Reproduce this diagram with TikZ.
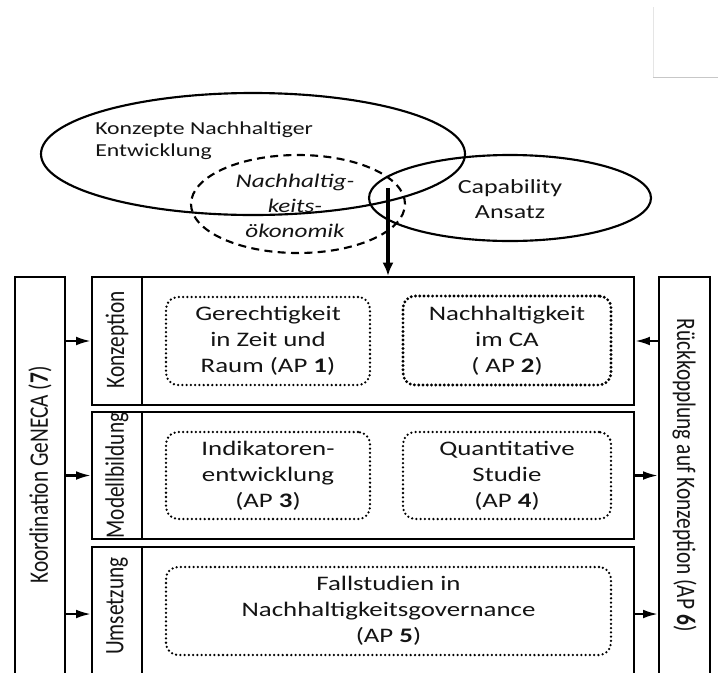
\documentclass[tikz,border=0pt]{standalone}
\usepackage{fontspec}
\setmainfont{Carlito}[FakeStretch=1.3]
\newfontfamily\rotfont{Carlito}
\usepackage{graphicx}
\usetikzlibrary{arrows.meta,shapes.geometric}
\newcommand\bxfont{\fontsize{15.5}{19.5}\selectfont}
\newcommand\rtfont{\rotfont\fontsize{16}{19}\selectfont}
\begin{document}
\begin{tikzpicture}[x=0.75pt,y=-0.75pt,
  ell/.style={draw, ellipse, line width=1.6pt, inner sep=0pt},
  box/.style={draw, rectangle, line width=1.75pt, inner sep=0pt},
  dbox/.style={draw, rectangle, rounded corners=9pt, line width=1.9pt,
     dash pattern=on 0pt off 3.2pt, line cap=round, align=center,
     inner sep=0pt, font=\bxfont, text=black!92},
  rlab/.style={inner sep=0pt, font=\rtfont, text=black!92},
  txt/.style={inner sep=0pt, text=black!92},
  arr/.style={line width=1.6pt, -{Latex[length=11pt,width=6.5pt]}}]
\useasboundingbox (0,0) rectangle (718,672);
\fill[white] (0,0) rectangle (718,672);
\clip (0,0) rectangle (718,672);

% faint corner artefact
\draw[line width=0.75pt, black!10] (653,7) -- (653,77);
\draw[line width=0.75pt, black!22] (653,77) -- (718,77);

% ellipses
\node[ell, minimum width=318pt, minimum height=91.5pt] (kne) at (253,154) {};
\node[ell, dash pattern=on 6pt off 4pt, minimum width=160.5pt, minimum height=73.5pt] (nho) at (298,204) {};
\node[ell, minimum width=211.5pt, minimum height=64.5pt] (cap) at (510,198) {};

\node[txt, anchor=west, align=left, font=\fontsize{13.7}{16.5}\selectfont] (knet) at (95,141)
  {Konzepte Nachhaltiger\\Entwicklung};
\node[txt, align=center, font=\fontsize{14.5}{19}\selectfont\itshape] (nhot) at (295,206)
  {Nachhaltig-\\keits-\\ökonomik};
\node[txt, align=center, font=\fontsize{15}{18.75}\selectfont] (capt) at (510,199)
  {Capability\\Ansatz};

% side boxes
\node[box, minimum width=37.5pt, minimum height=317.25pt] (kord) at (40,488.5) {};
\node[box, minimum width=38.25pt, minimum height=317.25pt] (rueck) at (684.5,488.5) {};
\node[rlab, rotate=90] (kordt) at (40,475)
  {\scalebox{1}[1.25]{Koordination GeNECA (\textbf{7})}};
\node[rlab, rotate=-90] (rueckt) at (684.5,475)
  {\scalebox{1}[1.25]{Rückkopplung auf Konzeption (AP \textbf{6})}};

% panels
\node[box, minimum width=37.5pt, minimum height=96pt] (p1lab) at (117,341) {};
\node[box, minimum width=369pt, minimum height=96pt] (p1) at (388,341) {};
\node[box, minimum width=37.5pt, minimum height=95.25pt] (p2lab) at (117,475.5) {};
\node[box, minimum width=369pt, minimum height=95.25pt] (p2) at (388,475.5) {};
\node[box, minimum width=37.5pt, minimum height=100.5pt] (p3lab) at (117,614) {};
\node[box, minimum width=369pt, minimum height=100.5pt] (p3) at (388,614) {};

\node[rlab, rotate=90] (l1) at (117,340) {\scalebox{1}[1.25]{Konzeption}};
\node[rlab, rotate=90] (l2) at (117,475.5) {\scalebox{1}[1.25]{Modellbildung}};
\node[rlab, rotate=90] (l3) at (117,606) {\scalebox{1}[1.25]{Umsetzung}};

% dotted work-package boxes
\node[dbox, minimum width=153pt, minimum height=66pt] (b1) at (268,341)
  {Gerechtigkeit\\in Zeit und\\Raum (AP \textbf{1})};
\node[dbox, line width=2.4pt, minimum width=156pt, minimum height=66.75pt] (b2) at (507,340.5)
  {Nachhaltigkeit\\im CA\\( AP \textbf{2})};
\node[dbox, minimum width=153pt, minimum height=65.25pt] (b3) at (268,475.5)
  {Indikatoren-\\entwicklung\\(AP \textbf{3})};
\node[dbox, minimum width=156pt, minimum height=65.25pt] (b4) at (507,475.5)
  {Quantitative\\Studie\\(AP \textbf{4})};
\node[dbox, minimum width=333.75pt, minimum height=66pt] (b5) at (388.5,611)
  {Fallstudien in\\Nachhaltigkeitsgovernance\\(AP \textbf{5})};

% connectors
\coordinate (src) at (388,188);
\draw[line width=2.3pt, -{Latex[length=10pt,width=8.5pt]}] (src) -- (p1.north);

\draw[arr] (kord.east |- p1lab.west) -- (p1lab.west);
\draw[arr] (kord.east |- p2lab.west) -- (p2lab.west);
\draw[arr] (kord.east |- p3lab.west) -- (p3lab.west);
\draw[arr] (rueck.west |- p1.east) -- (p1.east);
\draw[arr] (p2.east) -- (rueck.west |- p2.east);
\draw[arr] (p3.east) -- (rueck.west |- p3.east);
\end{tikzpicture}
\end{document}
